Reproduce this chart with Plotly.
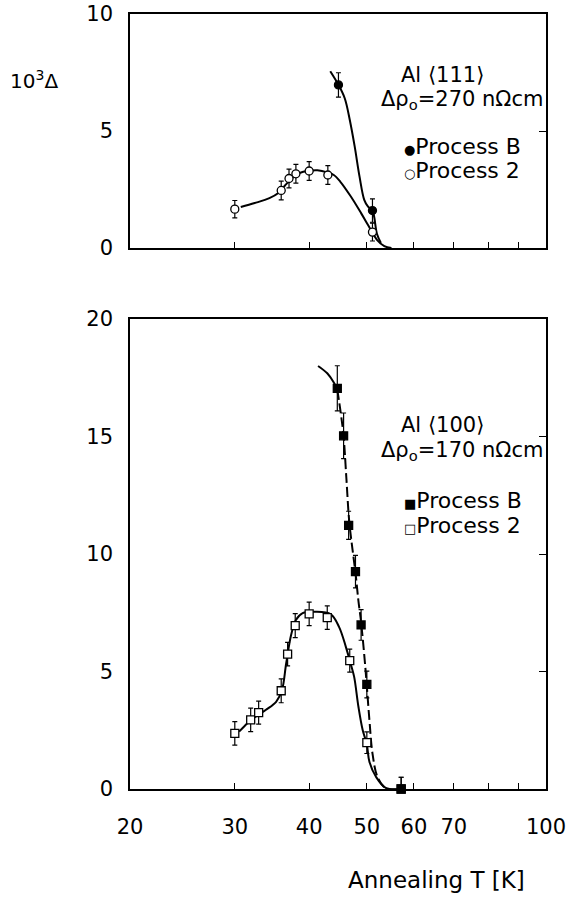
import plotly.graph_objects as go

# ---------------- data ----------------
# Al <111>, top panel
t111_B = [44.8, 51.1]
d111_B = [6.97, 1.60]
e111_B = [0.52, 0.50]

t111_2 = [30.0, 35.9, 37.0, 38.0, 40.0, 43.0, 51.1]
d111_2 = [1.66, 2.46, 2.97, 3.17, 3.29, 3.12, 0.68]
e111_2 = [0.37, 0.40, 0.40, 0.40, 0.40, 0.40, 0.38]

# guide curves (hand-drawn fits), top panel
c111_2_t = [30.7, 32.4, 34.3, 35.5, 36.4, 37.5, 38.5, 40.0, 41.3, 43.0, 44.0, 45.1, 47.0, 48.9, 50.2, 52.0, 53.5, 55.0]
c111_2_d = [1.75, 1.92, 2.13, 2.35, 2.66, 3.00, 3.20, 3.30, 3.32, 3.22, 3.12, 2.84, 2.20, 1.49, 0.99, 0.35, 0.08, 0.0]
c111_B_t = [43.4, 44.8, 45.9, 46.8, 47.7, 48.6, 49.5, 50.2, 51.1, 52.0, 52.8]
c111_B_d = [7.55, 6.97, 6.40, 5.48, 4.34, 3.06, 2.06, 1.78, 1.60, 0.60, 0.22]

# Al <100>, bottom panel
t100_B = [44.6, 45.7, 46.6, 47.85, 48.9, 50.0, 57.1]
d100_B = [17.05, 15.03, 11.22, 9.25, 6.98, 4.45, 0.0]
e100_B = [0.96, 0.97, 0.60, 0.69, 0.65, 0.57, 0.50]

t100_2 = [30.0, 31.9, 32.9, 35.9, 36.8, 37.9, 40.0, 42.9, 46.8, 50.0, 57.1]
d100_2 = [2.37, 2.94, 3.25, 4.18, 5.74, 6.95, 7.45, 7.29, 5.46, 1.97, 0.0]
e100_2 = [0.50, 0.50, 0.49, 0.51, 0.50, 0.51, 0.50, 0.50, 0.49, 0.46, 0.50]

c100_2_t = [30.5, 31.5, 32.0, 33.8, 35.2, 36.0, 36.6, 37.3, 38.0, 39.0, 41.0, 43.5, 44.9, 46.1, 47.0, 47.6, 48.4, 49.2, 50.0, 50.5, 51.8, 53.8, 57.0]
c100_2_d = [2.44, 2.80, 2.95, 3.36, 3.71, 4.20, 5.35, 6.55, 7.19, 7.48, 7.54, 7.43, 6.90, 6.05, 5.30, 4.78, 3.50, 2.51, 1.90, 1.16, 0.52, 0.05, 0.0]
# Process B fit: solid head, dashed tail
c100_Bh_t = [41.4, 42.9, 44.0, 44.6]
c100_Bh_d = [18.0, 17.69, 17.3, 17.0]
c100_Bt_t = [44.6, 45.2, 45.7, 46.2, 46.7, 47.3, 47.9, 48.4, 48.9, 49.7, 50.5, 51.1, 52.1, 53.8, 57.0]
c100_Bt_d = [17.0, 16.0, 15.0, 13.2, 11.4, 10.2, 9.1, 8.0, 7.1, 5.2, 2.94, 1.52, 0.52, 0.03, 0.0]

x_tickvals = [20, 30, 40, 50, 60, 70, 100]
x_ticktext = ["20", "30", "40", "50", "60", "70", "100"]
x_inner_ticks = [30, 40, 50, 60, 70, 80, 90]
x_extra_ticks = [80, 90]

# ---------------- layout helpers ----------------
W, H = 567, 902
FONT = "DejaVu Sans"


def px(x):
    return x / W


def py(y):
    return 1 - y / H


XDOM = [px(130), px(546)]
TOP_DOM = [py(248), py(14)]
BOT_DOM = [py(789), py(319)]

fig = go.Figure()


def err(arr):
    return dict(type="data", array=arr, visible=True, color="black", thickness=1.2, width=2.5)


def curve(t, d, xa, ya, dash="solid"):
    fig.add_trace(go.Scatter(
        x=t, y=d, mode="lines", xaxis=xa, yaxis=ya,
        line=dict(color="black", width=2, shape="spline", smoothing=1.0, dash=dash),
        showlegend=False, hoverinfo="skip", cliponaxis=False))


def points(t, d, e, xa, ya, symbol, fill):
    fig.add_trace(go.Scatter(
        x=t, y=d, mode="markers", xaxis=xa, yaxis=ya, error_y=err(e),
        marker=dict(symbol=symbol, size=8, color=fill, line=dict(color="black", width=1.3)),
        showlegend=False, cliponaxis=False))


# top panel
curve(c111_2_t, c111_2_d, "x", "y")
curve(c111_B_t, c111_B_d, "x", "y")
points(t111_2, d111_2, e111_2, "x", "y", "circle", "white")
points(t111_B, d111_B, e111_B, "x", "y", "circle", "black")

# bottom panel
curve(c100_2_t, c100_2_d, "x2", "y2")
curve(c100_Bh_t, c100_Bh_d, "x2", "y2")
curve(c100_Bt_t, c100_Bt_d, "x2", "y2", dash="10px,4px")
points(t100_2, d100_2, e100_2, "x2", "y2", "square", "white")
points(t100_B, d100_B, e100_B, "x2", "y2", "square", "black")

# empty traces so the right-hand tick axes are drawn
fig.add_trace(go.Scatter(x=[], y=[], xaxis="x", yaxis="y3", showlegend=False))
fig.add_trace(go.Scatter(x=[], y=[], xaxis="x2", yaxis="y4", showlegend=False))

tickfont = dict(family=FONT, size=21, color="black")
xcommon = dict(type="log", range=[1.30103, 2.0], domain=XDOM, showline=True, mirror=True,
               linecolor="black", linewidth=1.5, ticks="inside", ticklen=6, tickwidth=1.2,
               tickcolor="black", showgrid=False, zeroline=False, tickfont=tickfont,
               tickmode="array", automargin=False)
ycommon = dict(showline=True, mirror=True, linecolor="black", linewidth=1.5, ticks="",
               showgrid=False, zeroline=False, tickfont=tickfont, tickmode="array",
               ticklabelstandoff=11, automargin=False)
yright = dict(side="right", ticks="inside", ticklen=7, tickwidth=1.2, tickcolor="black",
              showticklabels=False, showgrid=False, zeroline=False, showline=False,
              tickmode="array", automargin=False)

fig.update_layout(
    width=W, height=H, margin=dict(l=0, r=0, t=0, b=0, pad=0, autoexpand=False),
    paper_bgcolor="white", plot_bgcolor="white",
    font=dict(family=FONT, size=21, color="black"),
    xaxis=dict(**xcommon, anchor="y", tickvals=x_inner_ticks, showticklabels=False),
    xaxis2=dict(**xcommon, anchor="y2", tickvals=x_tickvals, ticktext=x_ticktext,
                ticklabelstandoff=18,
                minor=dict(tickmode="array", tickvals=x_extra_ticks, ticks="inside",
                           ticklen=6, tickwidth=1.2, tickcolor="black", showgrid=False)),
    yaxis=dict(**ycommon, domain=TOP_DOM, range=[0, 10], tickvals=[0, 5, 10], anchor="x"),
    yaxis2=dict(**ycommon, domain=BOT_DOM, range=[0, 20], tickvals=[0, 5, 10, 15, 20], anchor="x2"),
    yaxis3=dict(**yright, overlaying="y", anchor="x", range=[0, 10], tickvals=[5]),
    yaxis4=dict(**yright, overlaying="y2", anchor="x2", range=[0, 20], tickvals=[5, 10, 15]),
)

SYM = "<span style='font-size:13px'>{}</span>"


def label(text, x, y, size=21):
    fig.add_annotation(text=text, x=px(x), y=py(y), xref="paper", yref="paper",
                       xanchor="left", yanchor="middle", showarrow=False,
                       font=dict(family=FONT, size=size, color="black"))


label("10<sup>3</sup>Δ", 8, 80, size=20)

label("Al ⟨111⟩", 399, 75)
label("Δρ<sub>o</sub>=270 nΩcm", 379, 100)
label(SYM.format("●") + "Process B", 402, 146, size=22)
label(SYM.format("○") + "Process 2", 402, 170, size=22)

label("Al ⟨100⟩", 399, 425)
label("Δρ<sub>o</sub>=170 nΩcm", 379, 451)
label(SYM.format("■") + "Process B", 402, 500, size=22)
label(SYM.format("□") + "Process 2", 402, 525, size=22)

label("Annealing T [K]", 346, 880, size=23)

fig.write_html("out.html")
